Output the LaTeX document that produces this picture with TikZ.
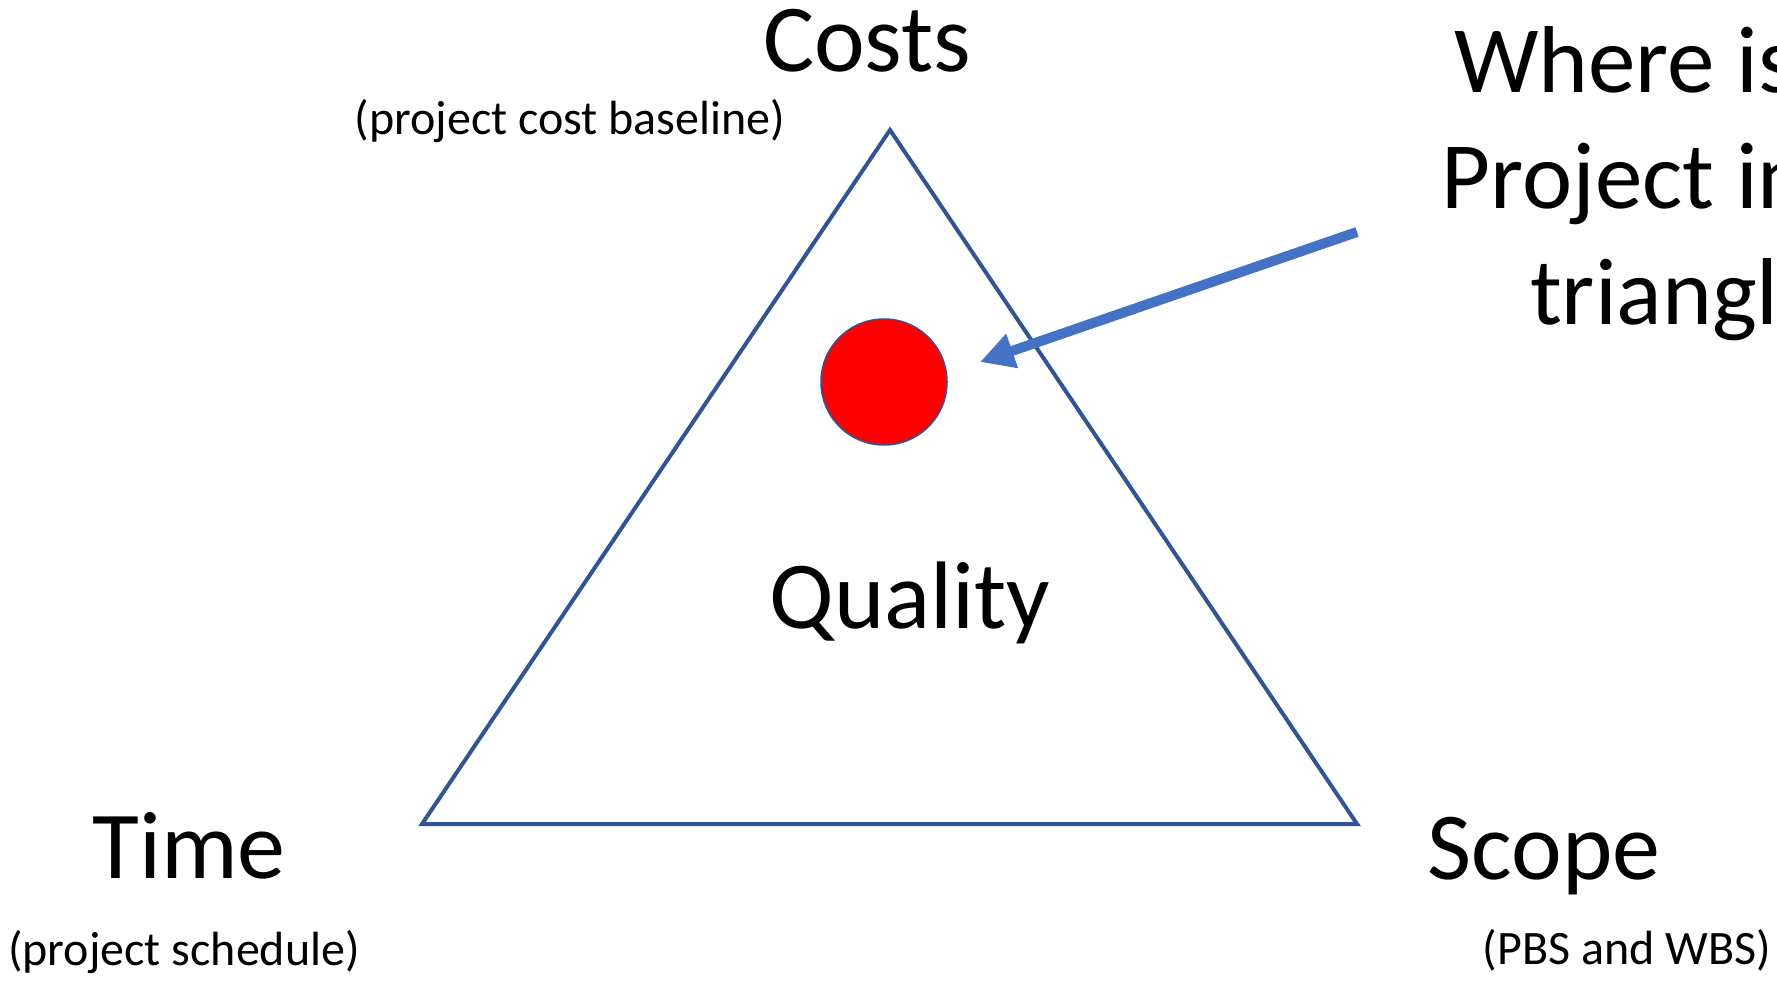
\documentclass[tikz,border=0pt]{standalone}
\usepackage{fontspec}
\setmainfont{Carlito}
\usepackage{xcolor}
\usetikzlibrary{arrows.meta}
\definecolor{edgeblue}{RGB}{47,85,151}
\definecolor{arrowblue}{RGB}{68,114,196}
\tikzset{
    bigtext/.style={anchor=base, inner sep=0pt, font=\fontsize{96}{115}\selectfont},
    subtext/.style={anchor=base, inner sep=0pt, font=\fontsize{48}{58}\selectfont}
}

\begin{document}
\begin{tikzpicture}[x=1pt, y=-1pt]
    \useasboundingbox (0,0) rectangle (1777,981);
    \clip (0,0) rectangle (1777,981);
    % Triangle
    \coordinate (top) at (890,130);
    \coordinate (left) at (422,824);
    \coordinate (right) at (1357,824);
    \draw[edgeblue, line width=4pt, line join=miter] (top) -- (left) -- (right) -- cycle;
    % Corners
    \node[bigtext] (costs) at (867,72) {Costs};
    \node[subtext] (costsub) at (570,135) {(project cost baseline)};
    \node[bigtext] (time) at (189,878) {Time};
    \node[subtext] (timesub) at (184,965) {(project schedule)};
    \node[bigtext] (scope) at (1544,879) {Scope};
    \node[subtext] (scopesub) at (1627,964) {(PBS and WBS)};
    \node[bigtext] (quality) at (910,628) {Quality};
    % Project
    \node[circle, draw=edgeblue, line width=1.5pt, fill=red, minimum size=126pt, inner sep=0pt] (project) at (884,382) {};
    \node[bigtext, align=center, font=\fontsize{95}{116}\selectfont] (question) at (1700,325) {Where is the\\Project in the\\triangle?};
    \coordinate (tail) at (1357,232);
    \coordinate (tip) at (980,362);
    \draw[arrowblue, line width=10pt, -{Triangle[length=34pt, width=34pt]}] (tail) -- (tip);
\end{tikzpicture}
\end{document}
